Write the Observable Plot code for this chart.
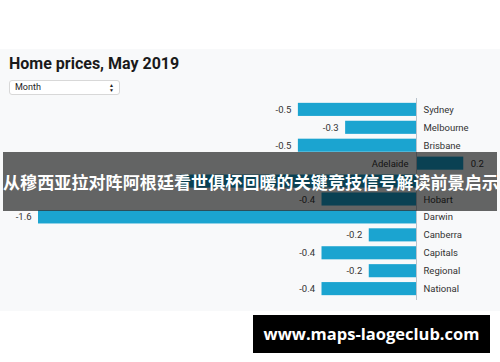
<!DOCTYPE html>
<html>
<head>
<meta charset="utf-8">
<script src="https://cdn.jsdelivr.net/npm/d3@7"></script>
<script src="https://cdn.jsdelivr.net/npm/@observablehq/plot@0.6"></script>
<style>
  html, body { margin: 0; padding: 0; background: #fff; width: 500px; height: 362px; overflow: hidden; font-family: Roboto, "Noto Sans", sans-serif; }
  #panel { position: absolute; left: 0; top: 49px; width: 500px; height: 262px; background: #f8f9fa; }
  #title { position: absolute; left: 9px; top: 54px; font: bold 16px Roboto, sans-serif; color: #1a1a1a; margin: 0; }
  #select { position: absolute; left: 9px; top: 80px; width: 109px; height: 13px; background: #fff; border: 1px solid #d8d8d8; border-radius: 3px; font: 9px Roboto, sans-serif; color: #222; line-height: 13px; box-sizing: content-box; }
  #select span { position: absolute; left: 5px; top: 0; }
  #select i { position: absolute; right: 5px; top: 2px; font-style: normal; font-size: 5px; line-height: 5px; }
  #chart { position: absolute; left: 0; top: 90px; }
  #banner { position: absolute; left: 3px; top: 152px; width: 494px; height: 59px; background: rgba(0,0,0,0.6); color: #fff; font: bold 17px "Noto Sans CJK SC", sans-serif; line-height: 59px; text-align: center; white-space: nowrap; letter-spacing: 0.1px; }
  #wm { position: absolute; left: 253px; top: 315px; width: 237px; height: 38px; background: #000; color: #fff; font: bold 16.5px "Open Sans", "DejaVu Sans", sans-serif; line-height: 38px; text-align: center; }
</style>
</head>
<body>
<div id="panel"></div>
<h2 id="title">Home prices, May 2019</h2>
<div id="select"><span>Month</span><i>&#9650;<br>&#9660;</i></div>
<div id="chart"></div>
<div id="banner">从穆西亚拉对阵阿根廷看世俱杯回暖的关键竞技信号解读前景启示</div>
<div id="wm">www.maps-laogeclub.com</div>
<script>
const cities = ["Sydney", "Melbourne", "Brisbane", "Adelaide", "Perth", "Hobart", "Darwin", "Canberra", "Capitals", "Regional", "National"];
const changes = [-0.5, -0.3, -0.5, 0.2, -1.0, -0.4, -1.6, -0.2, -0.4, -0.2, -0.4];
// Perth's labels are hidden behind the banner in the reference
const hiddenLabels = ["Perth"];

const data = cities.map((c, i) => ({city: c, value: changes[i]}));
const labelled = data.filter(d => !hiddenLabels.includes(d.city));
const neg = labelled.filter(d => d.value < 0);
const pos = labelled.filter(d => d.value >= 0);
const fmt = v => v.toFixed(1);

const chart = Plot.plot({
  width: 500,
  height: 218,
  marginTop: 8,
  marginBottom: 8,
  marginLeft: 38,
  marginRight: 1.3,
  style: {background: "transparent", fontFamily: "Roboto, sans-serif"},
  x: {domain: [-1.6, 0.35], axis: null},
  y: {domain: cities, axis: null, padding: 0.27, round: false},
  marks: [
    Plot.barX(data, {x: "value", y: "city", fill: "#1ba4d0"}),
    Plot.ruleX([0], {stroke: "#b9c3cc", strokeWidth: 1}),
    Plot.text(neg, {x: "value", y: "city", text: d => fmt(d.value), textAnchor: "end", dx: -7, fontSize: 9.5, fill: "#333"}),
    Plot.text(neg, {x: 0, y: "city", text: "city", textAnchor: "start", dx: 7, fontSize: 9.5, fill: "#333"}),
    Plot.text(pos, {x: "value", y: "city", text: d => fmt(d.value), textAnchor: "start", dx: 7, fontSize: 9.5, fill: "#333"}),
    Plot.text(pos, {x: 0, y: "city", text: "city", textAnchor: "end", dx: -8, fontSize: 9.5, fill: "#333"})
  ]
});
document.getElementById("chart").appendChild(chart);
</script>
</body>
</html>
